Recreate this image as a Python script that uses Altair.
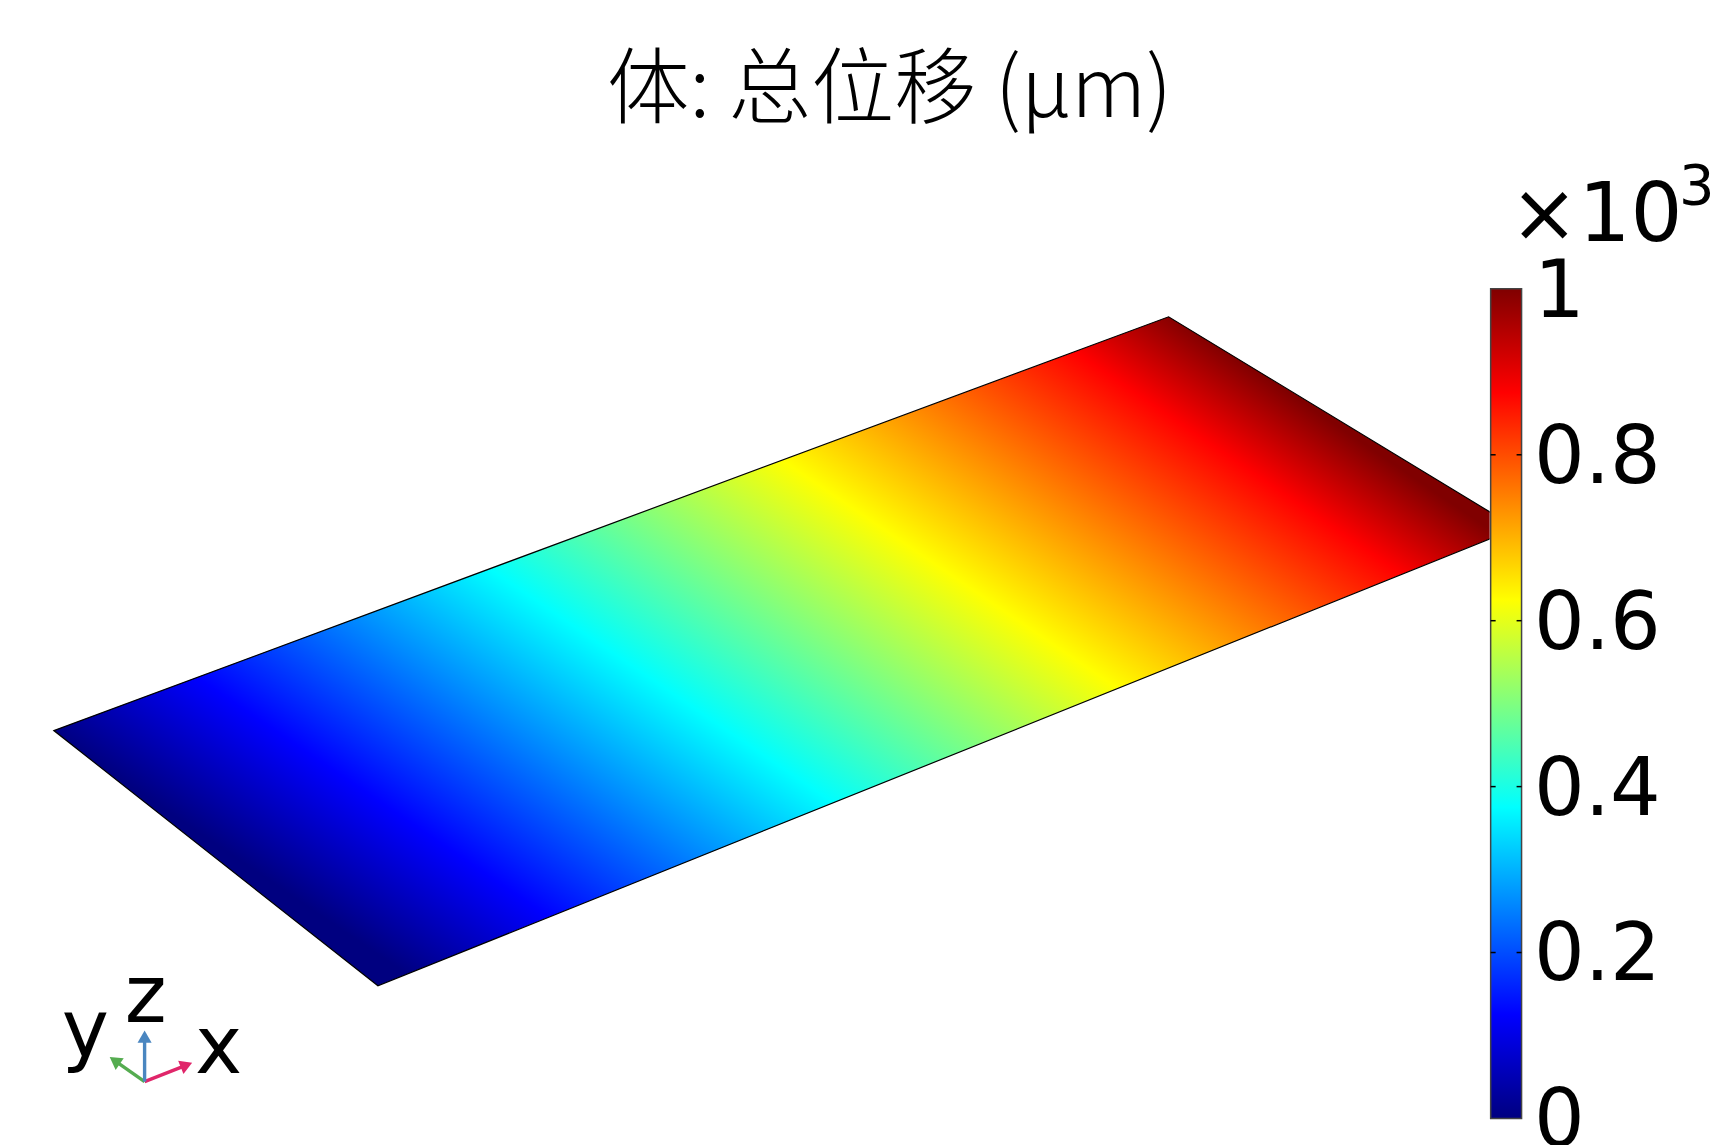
import altair as alt
import pandas as pd

# colour map
stop_offsets = [0, 0.125, 0.375, 0.625, 0.875, 1]
plate_stop_offsets = [0, 0.125, 0.375, 0.625, 0.875, 0.96]
stop_colors = ["#000080", "#0000ff", "#00ffff", "#ffff00", "#ff0000", "#800000"]

# plate outline (left, top, right, bottom corner)
plate_x = [52, 1170, 1519, 377]
plate_y = [731, 316, 528, 987]

# colour iso-lines on the plate: slope and intercepts of the first and last colour
iso_slope = 0.68
iso_start = 699
iso_end = -535

# colour bar
bar_ticks = [0, 0.2, 0.4, 0.6, 0.8, 1]
inner_ticks = [0.2, 0.4, 0.6, 0.8]

# text
title_text = "体: 总位移 (µm)"
axis_labels = ["x", "y", "z"]
axis_label_x = [193.5, 60, 144]
axis_label_y = [1074, 1057, 1023]
axis_label_align = ["left", "left", "center"]

# orientation triad: origin and arrow heads
triad_names = ["x", "y", "z"]
triad_x0 = [143, 143, 143]
triad_y0 = [1083, 1083, 1083]
triad_x1 = [185, 113, 143]
triad_y1 = [1066.5, 1062, 1038]
triad_colors = ["#e0266a", "#55ac50", "#4a86c0"]
triad_angles = [68, 305, 0]

ORIGIN = 6
LEFT_W = 1486
H = 1137
BAR_W = 31
FONT = "DejaVu Sans"

xs = alt.Scale(domain=[ORIGIN, ORIGIN + LEFT_W])
ys = alt.Scale(domain=[8, 8 + H], reverse=True)
X = lambda f: alt.X(f, scale=xs, axis=None)
Y = lambda f: alt.Y(f, scale=ys, axis=None)

stops = [alt.GradientStop(offset=o, color=c) for o, c in zip(stop_offsets, stop_colors)]
plate_stops = [alt.GradientStop(offset=o, color=c) for o, c in zip(plate_stop_offsets, stop_colors)]

# gradient in the unit square of the plate's bounding box
x_min, y_min = min(plate_x), min(plate_y)
bw = max(plate_x) - x_min
bh = max(plate_y) - y_min
gx, gy = -iso_slope * bw, bh
start_u = (iso_start - y_min + iso_slope * x_min) / bh
s = (iso_end - iso_start) / (gx * gx + gy * gy)
plate_fill = alt.LinearGradient(
    gradient="linear",
    x1=0, y1=start_u, x2=s * gx, y2=start_u + s * gy,
    stops=plate_stops,
)

ring = [[x, y] for x, y in zip(plate_x, plate_y)]
ring.append(ring[0])
feature = {"type": "Feature", "properties": {},
           "geometry": {"type": "Polygon", "coordinates": [ring]}}

plate = alt.Chart(alt.Data(values=[feature])).mark_geoshape(
    fill=plate_fill, stroke="#000000", strokeWidth=1.2
).project(type="identity", scale=1, translate=[-ORIGIN, -8])

title = alt.Chart(pd.DataFrame({"x": [890], "y": [116], "t": [title_text]})).mark_text(
    font="Noto Sans CJK SC", fontSize=83, fontWeight=300, align="center",
    baseline="alphabetic", color="#000000"
).encode(x=X("x:Q"), y=Y("y:Q"), text="t:N")

ax_text = pd.DataFrame({"x": axis_label_x, "y": axis_label_y, "t": axis_labels, "a": axis_label_align})
ax_layers = [
    alt.Chart(ax_text[ax_text.a == a]).mark_text(
        font=FONT, fontSize=80, align=a, baseline="alphabetic", color="#000000"
    ).encode(x=X("x:Q"), y=Y("y:Q"), text="t:N")
    for a in ["left", "center"]
]

triad_df = pd.DataFrame({"n": triad_names, "x0": triad_x0, "y0": triad_y0,
                         "x1": triad_x1, "y1": triad_y1, "c": triad_colors, "ang": triad_angles})
triad_layers = []
for _, r in triad_df.iterrows():
    row = pd.DataFrame([r])
    triad_layers.append(alt.Chart(row).mark_rule(color=r.c, strokeWidth=3.4).encode(
        x=X("x0:Q"), y=Y("y0:Q"), x2="x1:Q", y2="y1:Q"))
    triad_layers.append(alt.Chart(row).mark_point(
        shape="triangle-up", filled=True, color=r.c, opacity=1, size=200, angle=float(r.ang)
    ).encode(x=X("x1:Q"), y=Y("y1:Q")))

left = alt.layer(plate, title, *ax_layers, *triad_layers).properties(width=LEFT_W, height=H)

# colour bar panel: value scale spans the full panel height
BAR_TOP, BAR_BOTTOM = 288, 1120
v_top = (BAR_BOTTOM - 8) / (BAR_BOTTOM - BAR_TOP)
v_bot = (BAR_BOTTOM - (8 + H)) / (BAR_BOTTOM - BAR_TOP)
vs = alt.Scale(domain=[v_bot, v_top], nice=False, zero=False)
bx = alt.Scale(domain=[1492, 1492 + BAR_W])
bar_axis = alt.Axis(
    orient="right", values=bar_ticks, format="~g", title=None, domain=False, ticks=False,
    grid=False, labelFont=FONT, labelFontSize=80, labelColor="#000000", labelPadding=12,
    labelOffset=3.5, labelBaseline="middle", labelOverlap=False, labelFlush=False, labelBound=False,
)
VY = lambda f: alt.Y(f, scale=vs, axis=bar_axis)

bar_fill = alt.LinearGradient(gradient="linear", x1=0, y1=1, x2=0, y2=0, stops=stops)
bar = alt.Chart(pd.DataFrame({"a": [0], "b": [1]})).mark_rect(
    fill=bar_fill, stroke="#444444", strokeWidth=1.5
).encode(y=VY("a:Q"), y2="b:Q")
tick_df = pd.DataFrame({"v": inner_ticks})
tl = alt.Chart(tick_df).mark_rule(color="#000000", strokeWidth=1.5).encode(
    y=VY("v:Q"), x=alt.value(0), x2=alt.value(5))
tr = alt.Chart(tick_df).mark_rule(color="#000000", strokeWidth=1.5).encode(
    y=VY("v:Q"), x=alt.value(BAR_W - 5), x2=alt.value(BAR_W))

exp_a = alt.Chart(pd.DataFrame({"x": [1511.5], "v": [1.0577], "t": ["×10"]})).mark_text(
    font=FONT, fontSize=82, align="left", baseline="alphabetic", color="#000000"
).encode(x=alt.X("x:Q", scale=bx, axis=None), y=VY("v:Q"), text="t:N")
exp_b = alt.Chart(pd.DataFrame({"x": [1681], "v": [1.102], "t": ["3"]})).mark_text(
    font=FONT, fontSize=56, align="left", baseline="alphabetic", color="#000000"
).encode(x=alt.X("x:Q", scale=bx, axis=None), y=VY("v:Q"), text="t:N")

right = alt.layer(bar, tl, tr, exp_a, exp_b).properties(width=BAR_W, height=H)

chart = alt.hconcat(left, right, spacing=0, padding=0, background="#ffffff").configure_view(stroke=None)
chart.save("out.html", embed_options={"renderer": "svg", "actions": False})
